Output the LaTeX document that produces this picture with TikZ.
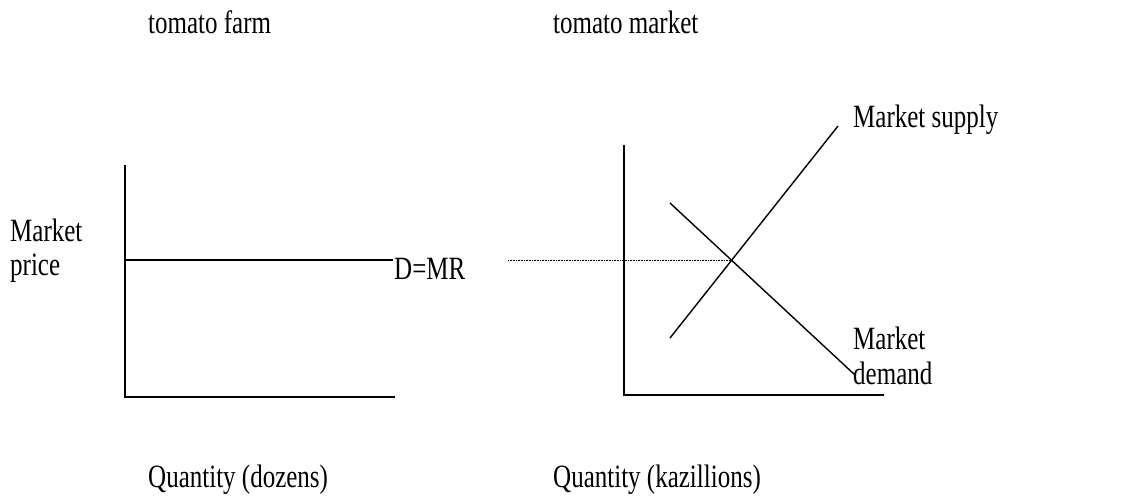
\documentclass[tikz,border=0pt]{standalone}
\usepackage{fontspec}
\usepackage{graphicx}
\setmainfont{Liberation Serif}
\newcommand{\tallt}[1]{\scalebox{1}[1.3]{#1}}
\begin{document}
\begin{tikzpicture}[x=1pt,y=-1pt,
  lbl/.style={font=\fontsize{25}{34}\selectfont, inner sep=0pt, anchor=base west},
  lbl2/.style={font=\fontsize{25}{34}\selectfont, inner sep=0pt, align=left, anchor=base west},
  axis/.style={line width=2pt},
  curve/.style={line width=1.4pt},
  guide/.style={line width=0.9pt, dash pattern=on 1pt off 0.6pt}]
\useasboundingbox (0,0) rectangle (1141,499);
% left panel
\coordinate (LT) at (125,165);
\coordinate (LO) at (125,397);
\coordinate (LR) at (395,397);
\coordinate (PL) at (125,260);
\coordinate (PR) at (393,260);
\draw[axis] (LT) -- (LO) -- (LR);
\draw[axis] (PL) -- (PR);
\node[lbl] (farm) at (148,33) {\tallt{tomato farm}};
\node[lbl] (dmr) at (394,279) {\tallt{D=MR}};
\node[lbl2] (price) at (10,275) {\tallt{Market}\\\tallt{price}};
\node[lbl] (qdoz) at (148,487) {\tallt{Quantity (dozens)}};
% right panel
\coordinate (RT) at (624,145);
\coordinate (RO) at (624,395);
\coordinate (RR) at (884,395);
\draw[axis] (RT) -- (RO) -- (RR);
\coordinate (S1) at (670,338);
\coordinate (S2) at (838,126);
\coordinate (D1) at (670,203);
\coordinate (D2) at (855,375);
\draw[curve] (S1) -- (S2);
\draw[curve] (D1) -- (D2);
\coordinate (G1) at (508,260);
\coordinate (G2) at (731,260);
\draw[guide] (G1) -- (G2);
\node[lbl] (mkt) at (553,33) {\tallt{tomato market}};
\node[lbl] (supply) at (853,127) {\tallt{Market supply}};
\node[lbl2, font=\fontsize{25}{35}\selectfont] (demand) at (853,384) {\tallt{Market}\\\tallt{demand}};
\node[lbl] (qkaz) at (553,487) {\tallt{Quantity (kazillions)}};
\end{tikzpicture}
\end{document}
